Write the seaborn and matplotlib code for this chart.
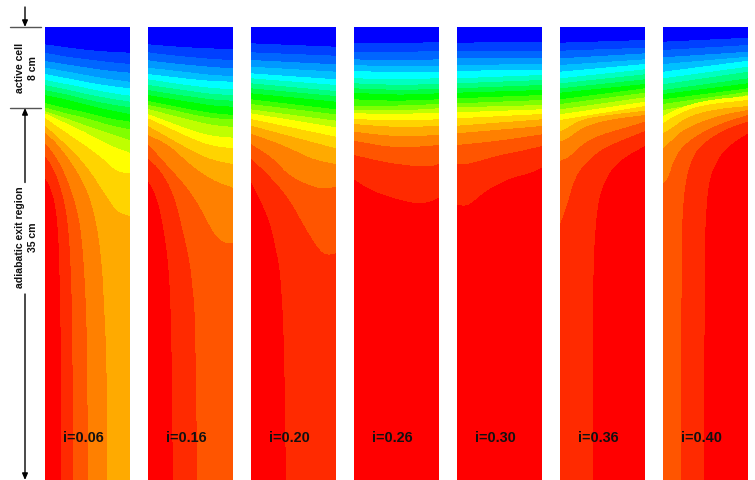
import numpy as np
import matplotlib
matplotlib.use("Agg")
import matplotlib.pyplot as plt
from matplotlib.colors import ListedColormap
from matplotlib.path import Path
import seaborn as sns

LABELS = ["i=0.06", "i=0.16", "i=0.20", "i=0.26", "i=0.30", "i=0.36", "i=0.40"]
BAND_COLORS = ["#0000ff", "#0040ff", "#0066ff", "#0099ff", "#00c0ff", "#00ffff",
               "#00ffc0", "#00ff80", "#00ff40", "#00ff00", "#40ff00", "#80ff00",
               "#bfff00", "#ffff00", "#ffd400", "#ffaa00", "#ff8000", "#ff5500",
               "#ff2a00", "#ff0000"]
TOP, BOTTOM = 27, 480
PANEL_LEFT = [45, 148, 251, 354, 457, 560, 663]
PANEL_W = 85

# Band boundaries (image row). A plain list holds rows at
# evenly spaced widths; a list of pairs holds (width fraction, row).
P1 = [[44.3, 47.3, 50, 51.7, 52.7], [52.7, 56.7, 59.3, 62, 64], [61, 64.3, 67.7, 70.7, 72.7],
      [67.7, 71.3, 75.3, 79, 81.7], [74, 78, 82.3, 85.7, 88.3], [80, 84, 88.3, 92.7, 95.7],
      [85, 89.3, 94.3, 98.3, 101.7], [90, 94.3, 99.7, 104, 107.3], [95, 99.3, 105, 110, 114],
      [103, 108.3, 112.7, 118.3, 121.7], [107.5, 113.3, 118.3, 125, 129.3],
      [111, 118.3, 126, 133.3, 140], [113.3, 123.3, 133.3, 145, 152.7],
      [(0, 118), (.255, 133), (.498, 146.7), (.725, 161.7), (.843, 171.7), (1, 173.3)],
      [(0, 125.7), (.255, 145), (.498, 166.7), (.725, 196.7), (.843, 211.7), (1, 216)],
      [(0, 133), (.137, 143), (.333, 165), (.498, 190), (.608, 223), (.667, 263), (.686, 290), (.726, 360), (.733, 480)],
      [(0, 143), (.118, 155), (.255, 177), (.392, 213), (.44, 245), (.475, 290), (.5, 360), (.5, 480)],
      [(0, 156), (.098, 168), (.196, 190), (.275, 223), (.314, 290), (.325, 360), (.325, 480)],
      [(0, 178), (.06, 187), (.118, 203), (.157, 233), (.176, 290), (.188, 360), (.188, 480)]]
P2 = [[44.3, 46, 47.5, 48.5, 49], [52.3, 55, 57, 59, 60], [60.3, 63, 65, 67, 68.3],
      [67.7, 70, 72.5, 75, 76], [74, 76.5, 79, 81, 81.7], [79.3, 82.5, 85.5, 88, 89.3],
      [85, 88, 91, 94, 95], [90, 93.5, 96.5, 99.5, 100.7], [95, 98.5, 102, 105.5, 106.7],
      [101, 105, 109.5, 113, 115], [105, 109, 114, 118, 119.5], [109, 114.5, 120, 125, 127],
      [114, 122, 130, 136, 137.7], [118.3, 128, 138, 146, 148.3], [126, 138, 150, 160, 164],
      [135, 145, 165, 180, 187.7],
      [(0, 144), (.222, 165), (.455, 186.7), (.61, 206.7), (.767, 233), (.883, 243), (1, 242.7)],
      [(0, 158.3), (.144, 170), (.3, 193), (.416, 233), (.494, 263), (.525, 290), (.553, 310), (.58, 480)],
      [(0, 181.7), (.066, 190), (.144, 210), (.222, 250), (.26, 290), (.28, 360), (.292, 480)]]
P3 = [[43.3, 46.7], [52.3, 55.7], [60, 64.3], [66.7, 71.7], [73.3, 79.3], [78.3, 85], [83.3, 91],
      [88.3, 96], [93.3, 101.7], [99.3, 109.3], [104, 114.3], [109.3, 120.7], [113.3, 127.3],
      [119, 136.7], [125.7, 148.3], [134, 141, 150, 160, 164],
      [(0, 144), (.264, 158.3), (.457, 176.7), (.767, 188), (.9, 188.5), (1, 186.7)],
      [(0, 158.3), (.264, 180), (.457, 200), (.65, 230), (.826, 253), (.92, 255), (1, 253.3)],
      [(0, 181.7), (.109, 200), (.225, 223), (.302, 253), (.34, 270), (.38, 320), (.40, 400), (.41, 480)]]
P4 = [[42.7, 43.3, 42], [51.7, 52.3, 50.7], [59.3, 60.7, 59.3], [65, 66.7, 65.7], [70.7, 72.7, 71.7],
      [78.3, 79.3, 78.3], [83.3, 85, 84], [88.3, 90, 89], [92.7, 95, 93.3], [99.3, 101, 99.3],
      [106, 105.7, 104], [110, 110.7, 108.3], [113.3, 114, 112.7], [119, 120.7, 119.3],
      [124, 127.3, 126], [131.7, 136.7, 135], [140.7, 148.3, 145],
      [(0, 155), (.42, 163.3), (.86, 167.3), (1, 164)],
      [(0, 179.3), (.19, 190), (.465, 198.3), (.74, 204), (.9, 201.7), (1, 197.3)]]
P5 = [[42.7, 41.7], [50.7, 50.7], [58.3, 57.7], [65, 64], [70.7, 70], [78.3, 75], [83.3, 80],
      [88.3, 85], [92.7, 90], [98.3, 95], [103.3, 100], [107.3, 105], [112.3, 109.3], [118.3, 114],
      [125.7, 119.3], [133.3, 126], [145, 140.7, 134.3],
      [(0, 164), (.114, 164.3), (.3, 160), (.506, 155), (.75, 151), (1, 146)],
      [(0, 205), (.114, 206), (.188, 201.7), (.353, 190), (.506, 183.3), (.66, 177.3), (.835, 174), (1, 167.7)]]
P6 = [[42.7, 40], [50.7, 47.7], [58.3, 53.3], [65, 59.3], [71.7, 64], [78.3, 69.3], [83.3, 74.3],
      [88.3, 79.3], [92.7, 84], [99.3, 88.3], [104, 92.7], [109.3, 97.3], [114.3, 101.7], [120, 106],
      [(0, 131.7), (.078, 128.3), (.234, 120), (.469, 116), (1, 110.7)],
      [(0, 141.7), (.098, 138.3), (.273, 126.7), (.586, 119.3), (1, 115)],
      [(0, 161), (.117, 156.7), (.273, 143.3), (.469, 135), (.742, 128.3), (1, 121.7)],
      [(0, 224.3), (.078, 206.7), (.176, 176.7), (.332, 160), (.508, 148.3), (.781, 138.3), (1, 131)],
      [(.39, 480), (.39, 270), (.41, 236.7), (.449, 200), (.547, 176.7), (.703, 160), (1, 146)]]
P7 = [[41.7, 37.7], [50, 45], [57.3, 51.7], [64, 56.7], [71.7, 60.7], [78.3, 66.7], [84.3, 71.7],
      [90, 78.3], [94, 83.3], [99.3, 88.3], [104, 91.7], [110, 95],
      [(0, 116), (.205, 107.3), (.52, 100), (1, 96)],
      [(0, 123.3), (.165, 114.3), (.441, 105), (1, 100)],
      [(0, 133.3), (.126, 126.7), (.283, 116.7), (.598, 109.3), (1, 106)],
      [(0, 148.3), (.087, 141.7), (.205, 131.7), (.441, 121.7), (.717, 114.3), (1, 110)],
      [(0, 184), (.067, 176.7), (.126, 160), (.224, 146.7), (.402, 135), (.677, 123.3), (1, 115)],
      [(.217, 480), (.217, 270), (.224, 220), (.264, 180), (.362, 153.3), (.52, 140), (.756, 128.3), (1, 121.7)],
      [(.488, 480), (.488, 270), (.5, 220), (.539, 180), (.638, 160), (.756, 146.7), (1, 133.3)]]
PANELS = [P1, P2, P3, P4, P5, P6, P7]


def to_xy(row):
    if np.isscalar(row[0]):
        return np.column_stack([np.linspace(0, 1, len(row)), row])
    return np.array(row, float)


def soften(xy, rounds=2):
    for _ in range(rounds):
        a, b = xy[:-1], xy[1:]
        mid = np.empty((2 * len(a), 2))
        mid[0::2], mid[1::2] = .75 * a + .25 * b, .25 * a + .75 * b
        xy = np.vstack([xy[:1], mid, xy[-1:]])
    return xy


def band_grid(boundaries, cols, rows):
    xs = (np.arange(cols) + .5) / cols
    ys = TOP + np.arange(rows) + .5
    gx, gy = np.meshgrid(xs, ys)
    pts = np.column_stack([gx.ravel(), gy.ravel()])
    out = np.zeros(len(pts), int)
    low = BOTTOM + 5
    for k, row in enumerate(boundaries):
        xy = soften(to_xy(row))
        poly = [tuple(p) for p in xy]
        starts_left = xy[0, 0] <= 0
        ends_right = xy[-1, 0] >= 1
        poly = ([(-.01, xy[0, 1])] if starts_left else [(xy[0, 0], low)]) + poly
        poly += [(1.01, xy[-1, 1]), (1.01, low)] if ends_right else [(xy[-1, 0], low)]
        if starts_left:
            poly.append((-.01, low))
        out[Path(poly + [poly[0]]).contains_points(pts)] = k + 1
    return out.reshape(rows, cols)


sns.set_theme(style="white")
plt.rcParams["font.family"] = ["Liberation Sans", "DejaVu Sans"]
cmap = ListedColormap(sns.color_palette(BAND_COLORS, n_colors=len(BAND_COLORS)))

W, H = 755, 480
fig = plt.figure(figsize=(W / 100, H / 100), dpi=100, facecolor="white")
for left, label, bounds in zip(PANEL_LEFT, LABELS, PANELS):
    ax = fig.add_axes([left / W, 1 - BOTTOM / H, PANEL_W / W, (BOTTOM - TOP) / H])
    grid = band_grid(bounds, PANEL_W, BOTTOM - TOP)
    sns.heatmap(grid, ax=ax, cmap=cmap, vmin=-.5, vmax=19.5, cbar=False,
                xticklabels=False, yticklabels=False)
    ax.text(.453, 1 - (438 - TOP) / (BOTTOM - TOP), label, transform=ax.transAxes, ha="center",
            va="center", fontsize=10.4, fontweight="bold", color="#111111")

over = fig.add_axes([0, 0, 1, 1], facecolor="none")
over.set_xlim(0, W)
over.set_ylim(H, 0)
over.axis("off")
for y in (26.7, 107.7):
    over.plot([9.5, 41], [y, y], color="#555555", lw=1)
for y0, y1 in ((7, 27), (182.5, 108), (294, 480)):
    over.annotate("", xy=(25, y1), xytext=(25, y0),
                  arrowprops=dict(arrowstyle="-|>,head_length=.32,head_width=.14", color="black",
                                  lw=1, shrinkA=0, shrinkB=0))
over.text(26.5, 68, "active cell\n8 cm", rotation=90, ha="center", va="center", fontsize=7.6,
          fontweight="bold", linespacing=1.35, color="#111111")
over.text(26.5, 237.5, "adiabatic exit region\n35 cm", rotation=90, ha="center", va="center",
          fontsize=7.6, fontweight="bold", linespacing=1.35, color="#111111")

fig.savefig("out.png", dpi=100, facecolor="white")
